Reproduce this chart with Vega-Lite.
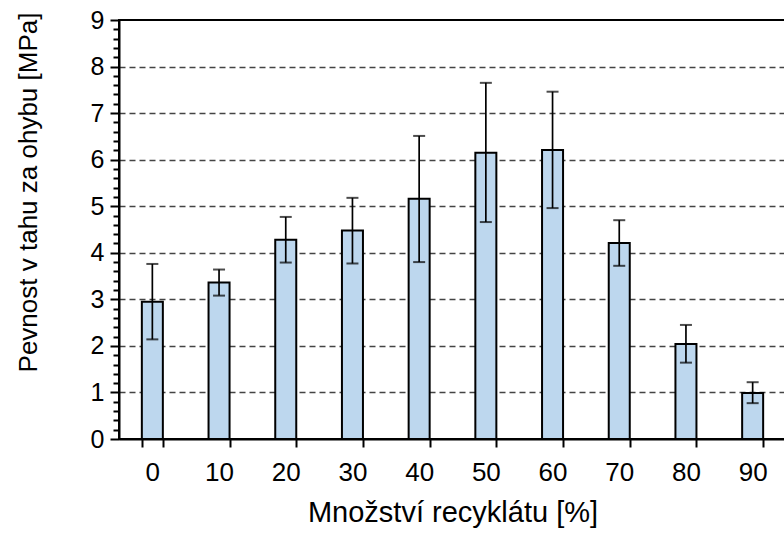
{
  "$schema": "https://vega.github.io/schema/vega-lite/v6.json",
  "autosize": "none",
  "padding": {"left": 119, "top": 20, "right": 0, "bottom": 94},
  "width": 667,
  "height": 419,
  "background": "white",
  "config": {
    "font": "Liberation Sans",
    "view": {"stroke": "black", "strokeWidth": 2}
  },
  "data": {
    "values": [
      {"x": 0, "mean": 2.95, "lo": 2.14, "hi": 3.76},
      {"x": 10, "mean": 3.36, "lo": 3.08, "hi": 3.64},
      {"x": 20, "mean": 4.28, "lo": 3.79, "hi": 4.77},
      {"x": 30, "mean": 4.48, "lo": 3.77, "hi": 5.18},
      {"x": 40, "mean": 5.16, "lo": 3.80, "hi": 6.51},
      {"x": 50, "mean": 6.15, "lo": 4.66, "hi": 7.65},
      {"x": 60, "mean": 6.21, "lo": 4.96, "hi": 7.46},
      {"x": 70, "mean": 4.21, "lo": 3.72, "hi": 4.70},
      {"x": 80, "mean": 2.04, "lo": 1.64, "hi": 2.45},
      {"x": 90, "mean": 0.99, "lo": 0.77, "hi": 1.22}
    ]
  },
  "encoding": {
    "x": {
      "field": "x",
      "type": "ordinal",
      "scale": {"paddingInner": 0.685, "paddingOuter": 0.3425},
      "axis": {
        "title": "Množství recyklátu [%]",
        "titleFontSize": 29,
        "titleFontWeight": "normal",
        "titleColor": "black",
        "titlePadding": 13,
        "labelAngle": 0,
        "labelFontSize": 26,
        "labelColor": "black",
        "labelPadding": 12,
        "tickBand": "extent",
        "tickSize": 8,
        "tickWidth": 2,
        "tickColor": "black",
        "domainColor": "black",
        "domainWidth": 2,
        "grid": false
      }
    }
  },
  "resolve": {"scale": {"y": "independent"}, "axis": {"y": "independent"}},
  "layer": [
    {
      "mark": {"type": "bar", "fill": "#BDD7EE", "stroke": "black", "strokeWidth": 2},
      "encoding": {
        "y": {
          "field": "mean",
          "type": "quantitative",
          "title": "Pevnost v tahu za ohybu [MPa]",
          "scale": {"domain": [0, 9], "nice": false},
          "axis": {
            "orient": "left",
            "values": [0, 1, 2, 3, 4, 5, 6, 7, 8, 9],
            "labelFontSize": 25,
            "labelColor": "black",
            "labelPadding": 6,
            "tickColor": "black",
            "tickWidth": 2,
            "tickSize": 9,
            "domainColor": "black",
            "domainWidth": 2,
            "grid": true,
            "gridColor": "#444444",
            "gridWidth": 1.5,
            "gridDash": [6, 4],
            "gridOpacity": {"condition": {"test": "datum.value >= 1 && datum.value <= 8", "value": 1}, "value": 0},
            "titleFontSize": 26,
            "titleFontWeight": "normal",
            "titleColor": "black",
            "titleAngle": -90,
            "titleX": -91,
            "titleY": 172,
            "titleAlign": "center",
            "titleBaseline": "middle"
          }
        }
      }
    },
    {
      "mark": {"type": "rule", "color": "black", "strokeWidth": 1.7},
      "encoding": {
        "y": {"field": "lo", "type": "quantitative", "scale": {"domain": [0, 9], "nice": false}, "axis": null},
        "y2": {"field": "hi"}
      }
    },
    {
      "mark": {"type": "tick", "color": "black", "size": 12, "thickness": 2},
      "encoding": {
        "y": {
          "field": "lo",
          "type": "quantitative",
          "scale": {"domain": [0, 9], "nice": false},
          "axis": {
            "orient": "left",
            "offset": 0,
            "title": null,
            "labels": false,
            "domain": false,
            "grid": false,
            "values": [0.2, 0.4, 0.6, 0.8, 1.2, 1.4, 1.6, 1.8, 2.2, 2.4, 2.6, 2.8, 3.2, 3.4, 3.6, 3.8, 4.2, 4.4, 4.6, 4.8, 5.2, 5.4, 5.6, 5.8, 6.2, 6.4, 6.6, 6.8, 7.2, 7.4, 7.6, 7.8, 8.2, 8.4, 8.6, 8.8],
            "tickColor": "black",
            "tickWidth": 2,
            "tickSize": 6
          }
        }
      }
    },
    {
      "mark": {"type": "tick", "color": "black", "size": 12, "thickness": 2},
      "encoding": {
        "y": {"field": "hi", "type": "quantitative", "scale": {"domain": [0, 9], "nice": false}, "axis": null}
      }
    }
  ]
}
